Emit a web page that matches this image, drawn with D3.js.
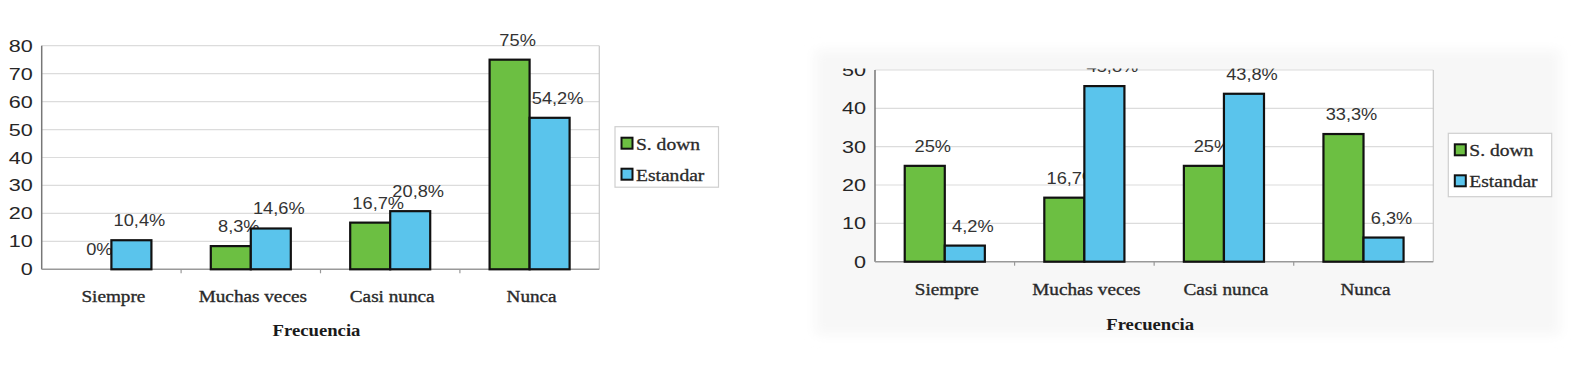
<!DOCTYPE html>
<html><head><meta charset="utf-8">
<script src="https://cdn.jsdelivr.net/npm/d3@7"></script>
<style>html,body{margin:0;padding:0;background:#fff;}svg{display:block;}</style>
</head><body>
<svg id="chart" width="1584" height="390"></svg>
<script>
const categories = ["Siempre", "Muchas veces", "Casi nunca", "Nunca"];
const seriesNames = ["S. down", "Estandar"];
const leftSdown = [0, 8.3, 16.7, 75];
const leftEstandar = [10.4, 14.6, 20.8, 54.2];
const rightSdown = [25, 16.7, 25, 33.3];
const rightEstandar = [4.2, 45.8, 43.8, 6.3];
const leftTicks = [0, 10, 20, 30, 40, 50, 60, 70, 80];
const rightTicks = [0, 10, 20, 30, 40, 50];
const axisTitle = "Frecuencia";

const colors = {"S. down": "#6cbf42", "Estandar": "#5ac4ec"};
const fmt = v => String(v).replace(".", ",") + "%";

const svg = d3.select("#chart");
const defs = svg.append("defs");
const blur = defs.append("filter").attr("id", "soft").attr("x", "-5%").attr("y", "-10%").attr("width", "110%").attr("height", "120%");
blur.append("feGaussianBlur").attr("stdDeviation", 6);

function stext(g, x, y, str, opts) {
  const t = g.append("text")
    .attr("transform", `translate(${x},${y}) scale(${opts.sx || 1},1)`)
    .attr("text-anchor", opts.anchor || "middle")
    .attr("font-family", opts.family || "'Liberation Sans', Arial, sans-serif")
    .attr("font-size", opts.size || 16)
    .attr("font-weight", opts.weight || "normal")
    .attr("fill", opts.fill || "#333")
    .text(str);
  if (opts.stroke) t.attr("stroke", opts.fill || "#333").attr("stroke-width", opts.stroke);
  return t;
}

function drawChart(cfg) {
  if (cfg.bg) {
    svg.append("rect").attr("x", cfg.bg.x).attr("y", cfg.bg.y).attr("width", cfg.bg.w).attr("height", cfg.bg.h)
      .attr("fill", "#f7f7f7").attr("filter", "url(#soft)");
  }
  const g = svg.append("g");
  if (cfg.clipTop != null) {
    const id = "clip" + cfg.id;
    defs.append("clipPath").attr("id", id)
      .append("rect").attr("x", 0).attr("y", cfg.clipTop).attr("width", 1584).attr("height", 390);
    g.attr("clip-path", `url(#${id})`);
  }
  const x = d3.scaleBand().domain(categories).range([cfg.x0, cfg.x1])
    .paddingInner(cfg.pad).paddingOuter(cfg.pad / 2);
  const xs = d3.scaleBand().domain(seriesNames).range([0, x.bandwidth()]);
  const y = d3.scaleLinear().domain([0, d3.max(cfg.ticks)]).range([cfg.yb, cfg.yt]);

  g.append("rect").attr("x", cfg.x0).attr("y", cfg.yt).attr("width", cfg.x1 - cfg.x0).attr("height", cfg.yb - cfg.yt)
    .attr("fill", "#fff");
  // gridlines
  g.append("g").selectAll("line").data(cfg.ticks.filter(t => t > 0)).join("line")
    .attr("x1", cfg.x0).attr("x2", cfg.x1)
    .attr("y1", d => y(d)).attr("y2", d => y(d))
    .attr("stroke", "#dcdcdc").attr("stroke-width", 1.2);
  // border right
  g.append("line").attr("x1", cfg.x1).attr("x2", cfg.x1).attr("y1", cfg.yt).attr("y2", cfg.yb)
    .attr("stroke", "#c8c8c8").attr("stroke-width", 1.2);
  // axes
  g.append("line").attr("x1", cfg.x0).attr("x2", cfg.x0).attr("y1", cfg.yt).attr("y2", cfg.yb)
    .attr("stroke", "#777").attr("stroke-width", 1.5);
  g.append("line").attr("x1", cfg.x0).attr("x2", cfg.x1).attr("y1", cfg.yb).attr("y2", cfg.yb)
    .attr("stroke", "#999").attr("stroke-width", 1.5);
  // x ticks at band boundaries
  const bounds = categories.slice(1).map(c => x(c) - x.step() * x.paddingInner() / 2);
  g.append("g").selectAll("line").data(bounds).join("line")
    .attr("x1", d => d).attr("x2", d => d).attr("y1", cfg.yb).attr("y2", cfg.yb + 4)
    .attr("stroke", "#999").attr("stroke-width", 1.2);

  // y tick labels
  cfg.ticks.forEach(t => {
    stext(g, cfg.x0 - 9, y(t) + 6, String(t), {anchor: "end", size: 17, sx: 1.27, fill: "#262626"});
  });

  // bars
  const series = [cfg.sdown, cfg.estandar];
  seriesNames.forEach((s, si) => {
    series[si].forEach((v, i) => {
      const bx = x(categories[i]) + xs(s);
      if (v > 0) {
        g.append("rect").attr("x", bx).attr("y", y(v)).attr("width", xs.bandwidth()).attr("height", y(0) - y(v))
          .attr("fill", colors[s]).attr("stroke", "#111").attr("stroke-width", 2.2);
      }
      stext(g, bx + xs.bandwidth() / 2 + 8, y(v) - 14, fmt(v), {size: 16, sx: 1.14, fill: "#333"});
    });
  });

  // category labels
  categories.forEach(c => {
    stext(g, x(c) + x.bandwidth() / 2 + 2, cfg.catY, c,
      {family: "'Liberation Serif', 'Times New Roman', serif", size: 17, sx: 1.13, fill: "#2a2a2a", stroke: 0.35});
  });
  stext(g, (cfg.x0 + cfg.x1) / 2 - 4, cfg.titleY, axisTitle,
    {family: "'Liberation Serif', 'Times New Roman', serif", size: 17, sx: 1.1, weight: "bold", fill: "#1a1a1a"});

  // legend
  const L = cfg.legend;
  g.append("rect").attr("x", L.x).attr("y", L.y).attr("width", L.w).attr("height", L.h)
    .attr("fill", "#fff").attr("stroke", "#cfcfcf").attr("stroke-width", 1.2);
  seriesNames.forEach((s, si) => {
    const ry = L.y + 11 + si * 31;
    g.append("rect").attr("x", L.x + 6.5).attr("y", ry).attr("width", 11).attr("height", 11)
      .attr("fill", colors[s]).attr("stroke", "#111").attr("stroke-width", 2);
    stext(g, L.x + 21, ry + 12, s,
      {anchor: "start", family: "'Liberation Serif', 'Times New Roman', serif", size: 17, sx: 1.15, fill: "#2a2a2a", stroke: 0.3});
  });
}

drawChart({
  id: "L", x0: 41.7, x1: 599.3, yt: 45.7, yb: 269.3, pad: 0.426,
  ticks: leftTicks, sdown: leftSdown, estandar: leftEstandar,
  catY: 302, titleY: 336,
  legend: {x: 615, y: 126.7, w: 103.5, h: 60.5}
});
drawChart({
  id: "R", x0: 875, x1: 1433.3, yt: 70, yb: 261.7, pad: 0.426,
  ticks: rightTicks, sdown: rightSdown, estandar: rightEstandar,
  catY: 295, titleY: 330, clipTop: 68.5,
  bg: {x: 815, y: 50, w: 745, h: 285},
  legend: {x: 1448.3, y: 133.3, w: 103.4, h: 63.4}
});
</script>
</body></html>
